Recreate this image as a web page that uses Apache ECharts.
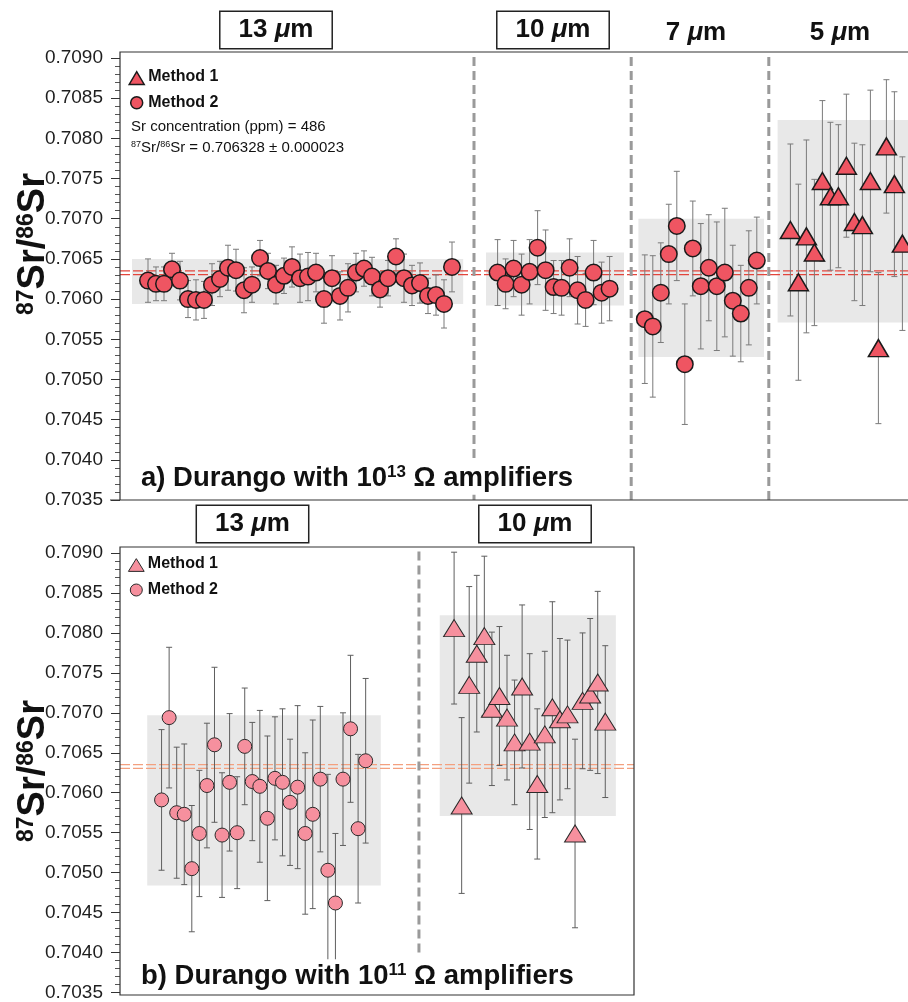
<!DOCTYPE html>
<html>
<head>
<meta charset="utf-8">
<script src="https://cdn.jsdelivr.net/npm/echarts@6/dist/echarts.min.js"></script>
<style>
  html, body { margin: 0; padding: 0; background: #fff; }
  #chart { width: 908px; height: 1002px; }
</style>
</head>
<body>
<div id="chart"></div>
<script>
// Durango apatite 87Sr/86Sr, laser spot analyses grouped by spot size.

const yMin = 0.7035, yMax = 0.7090, yStep = 0.0005;
const refRatio = 0.706328, refErr = 0.000023;
const srConc = 486;

// a) 10^13 Ω amplifiers
const a13Ratio = [0.70623,0.70619,0.70619,0.70637,0.70623,0.70600,0.70599,0.70599,0.70618,0.70625,
                  0.70639,0.70636,0.70611,0.70618,0.70651,0.70635,0.70618,0.70629,0.70640,0.70626,
                  0.70628,0.70633,0.70600,0.70626,0.70604,0.70614,0.70633,0.70638,0.70628,0.70612,
                  0.70626,0.70653,0.70626,0.70617,0.70620,0.70604,0.70605,0.70594,0.70640];
const a13Err   = [0.00027,0.00021,0.00021,0.00020,0.00024,0.00023,0.00025,0.00023,0.00026,0.00022,
                  0.00028,0.00026,0.00028,0.00022,0.00022,0.00022,0.00024,0.00022,0.00025,0.00030,
                  0.00030,0.00024,0.00030,0.00028,0.00030,0.00030,0.00024,0.00022,0.00024,0.00022,
                  0.00022,0.00022,0.00030,0.00025,0.00025,0.00022,0.00025,0.00030,0.00031];
const a10Ratio = [0.70633,0.70619,0.70638,0.70618,0.70634,0.70664,0.70636,0.70615,0.70614,0.70639,
                  0.70611,0.70599,0.70633,0.70608,0.70613];
const a10Err   = [0.00041,0.00031,0.00035,0.00038,0.00040,0.00046,0.00050,0.00033,0.00034,0.00036,
                  0.00042,0.00033,0.00040,0.00038,0.00040];
const a7Ratio  = [0.70575,0.70566,0.70608,0.70656,0.70691,0.70519,0.70663,0.70616,0.70639,0.70616,
                  0.70633,0.70598,0.70582,0.70614,0.70648];
const a7Err    = [0.00080,0.00088,0.00062,0.00062,0.00068,0.00075,0.00059,0.00078,0.00066,0.00080,
                  0.00080,0.00069,0.00060,0.00071,0.00054];
const a5Ratio  = [0.70686,0.70621,0.70678,0.70658,0.70747,0.70728,0.70728,0.70766,0.70696,0.70692,
                  0.70747,0.70539,0.70790,0.70743,0.70669];
const a5Err    = [0.00107,0.00122,0.00120,0.00091,0.00100,0.00092,0.00089,0.00089,0.00098,0.00100,
                  0.00113,0.00094,0.00083,0.00115,0.00108];

// b) 10^11 Ω amplifiers
const b13Ratio = [0.70591,0.70694,0.70575,0.70573,0.70505,0.70549,0.70609,0.70660,0.70547,0.70613,
                  0.70550,0.70658,0.70614,0.70608,0.70568,0.70618,0.70613,0.70588,0.70607,0.70549,
                  0.70573,0.70617,0.70503,0.70462,0.70617,0.70680,0.70555,0.70640];
const b13Err   = [0.00088,0.00088,0.00082,0.00088,0.00079,0.00079,0.00078,0.00097,0.00078,0.00086,
                  0.00070,0.00073,0.00074,0.00095,0.00103,0.00077,0.00092,0.00079,0.00102,0.00101,
                  0.00118,0.00091,0.00120,0.00087,0.00083,0.00092,0.00093,0.00103];
const b10Ratio = [0.70806,0.70584,0.70735,0.70774,0.70796,0.70705,0.70721,0.70694,0.70663,0.70733,
                  0.70664,0.70611,0.70673,0.70707,0.70692,0.70698,0.70549,0.70715,0.70723,0.70738,
                  0.70689];
const b10Err   = [0.00095,0.00110,0.00123,0.00098,0.00100,0.00096,0.00087,0.00078,0.00078,0.00102,
                  0.00110,0.00094,0.00104,0.00132,0.00101,0.00093,0.00118,0.00085,0.00095,0.00114,
                  0.00095];

// 2SD envelope of each spot-size group
const a13Band = [0.70594, 0.70650];
const a10Band = [0.70592, 0.70658];
const a7Band  = [0.70528, 0.70700];
const a5Band  = [0.70571, 0.70823];
const b13Band = [0.70484, 0.70697];
const b10Band = [0.70571, 0.70822];

const groupLabels = ['13 μm', '10 μm', '7 μm', '5 μm'];
const methodNames = ['Method 1', 'Method 2'];

// ---------- layout & style ----------
const FONT = 'Liberation Sans, Arial, Helvetica, sans-serif';
const PANELS = [
  {
    grid: { left: 120, top: 58, width: 788, height: 442 }, frameTop: 52, xMax: 98.5,
    fill: '#ef5562', border: '#1a1a1a', borderW: 1.5, circle: 16.5, tri: [20, 17], barColor: '#7a7a7a',
    refColor: '#e2453c',
    groups: [
      { ratio: a13Ratio, err: a13Err, band: a13Band, sym: 'circle',   start: 3.5,  boxX: [1.5, 42.9] },
      { ratio: a10Ratio, err: a10Err, band: a10Band, sym: 'circle',   start: 47.2, boxX: [45.75, 63] },
      { ratio: a7Ratio,  err: a7Err,  band: a7Band,  sym: 'circle',   start: 65.6, boxX: [64.8, 80.5] },
      { ratio: a5Ratio,  err: a5Err,  band: a5Band,  sym: 'triangle', start: 83.8, boxX: [82.2, 98.5] }
    ],
    dividers: [[44.25, yMin], [63.9, yMin], [81.1, yMin]]
  },
  {
    grid: { left: 120, top: 553, width: 514, height: 442 }, frameTop: 547, xMax: 68,
    fill: '#f6909e', border: '#2a2a2a', borderW: 1, circle: 14, tri: [21, 17], barColor: '#5e5e5e',
    refColor: '#f3a07f',
    groups: [
      { ratio: b13Ratio, err: b13Err, band: b13Band, sym: 'circle',   start: 5.5,  boxX: [3.6, 34.5] },
      { ratio: b10Ratio, err: b10Err, band: b10Band, sym: 'triangle', start: 44.2, boxX: [42.3, 65.6] }
    ],
    dividers: [[39.55, 0.7040]]
  }
];

const grids = [], xAxes = [], yAxes = [], series = [];

PANELS.forEach((p, pi) => {
  grids.push(p.grid);
  xAxes.push({ type: 'value', gridIndex: pi, min: 0, max: p.xMax, show: false });
  yAxes.push({
    type: 'value', gridIndex: pi, min: yMin, max: yMax, interval: yStep,
    axisLine: { show: false },
    axisTick: { show: true, inside: false, length: 9, lineStyle: { color: '#333', width: 1 } },
    minorTick: { show: true, splitNumber: 5, length: 5, lineStyle: { color: '#555', width: 1 } },
    splitLine: { show: false },
    minorSplitLine: { show: false },
    axisLabel: { formatter: v => v.toFixed(4), fontSize: 19, color: '#1e1e1e', margin: 17, fontFamily: FONT }
  });

  const topVal = yMax + (p.grid.top - p.frameTop) / p.grid.height * (yMax - yMin);

  // grey 2SD boxes
  series.push({
    type: 'custom', xAxisIndex: pi, yAxisIndex: pi, silent: true, z: 1, clip: true,
    data: p.groups.map(g => [g.boxX[0], g.boxX[1], g.band[0], g.band[1]]),
    encode: { x: [0, 1], y: [2, 3] },
    renderItem(params, api) {
      const a = api.coord([api.value(0), api.value(3)]);
      const b = api.coord([api.value(1), api.value(2)]);
      return { type: 'rect', shape: { x: a[0], y: a[1], width: b[0] - a[0], height: b[1] - a[1] },
               style: { fill: '#e8e8e8' } };
    }
  });

  // reference value ± uncertainty
  [refRatio - refErr, refRatio + refErr].forEach(v => {
    series.push({
      type: 'line', xAxisIndex: pi, yAxisIndex: pi, silent: true, z: 2, symbol: 'none',
      data: [[0, v], [p.xMax, v]],
      lineStyle: { color: p.refColor, width: 1.2, type: [10, 3] }
    });
  });

  // spot-size dividers
  p.dividers.forEach(d => {
    series.push({
      type: 'line', xAxisIndex: pi, yAxisIndex: pi, silent: true, z: 2, symbol: 'none', clip: false,
      data: [[d[0], d[1]], [d[0], topVal]],
      lineStyle: { color: '#9a9a9a', width: 3, type: [9, 5] }
    });
  });

  p.groups.forEach(g => {
    const pts = g.ratio.map((r, i) => [g.start + i, r, g.err[i]]);
    // 2SE error bars
    series.push({
      type: 'custom', xAxisIndex: pi, yAxisIndex: pi, silent: true, z: 3, clip: false,
      data: pts.map(q => [q[0], q[1] - q[2], q[1] + q[2]]),
      encode: { x: 0, y: [1, 2] },
      renderItem(params, api) {
        const x = api.value(0);
        const lo = api.coord([x, api.value(1)]);
        const hi = api.coord([x, api.value(2)]);
        const c = 3, st = { stroke: p.barColor, lineWidth: 1 };
        return { type: 'group', children: [
          { type: 'line', shape: { x1: lo[0], y1: lo[1], x2: hi[0], y2: hi[1] }, style: st },
          { type: 'line', shape: { x1: lo[0] - c, y1: lo[1], x2: lo[0] + c, y2: lo[1] }, style: st },
          { type: 'line', shape: { x1: hi[0] - c, y1: hi[1], x2: hi[0] + c, y2: hi[1] }, style: st }
        ] };
      }
    });
    // analyses
    series.push({
      type: 'scatter', xAxisIndex: pi, yAxisIndex: pi, z: 4, silent: true,
      name: g.sym === 'triangle' ? methodNames[0] : methodNames[1],
      symbol: g.sym,
      symbolSize: g.sym === 'triangle' ? p.tri : p.circle,
      data: pts.map(q => [q[0], q[1]]),
      itemStyle: { color: p.fill, borderColor: p.border, borderWidth: p.borderW, opacity: 1 }
    });
  });
});

// ---------- annotations ----------
const supRich = (size, ratio) => ({
  n: { fontSize: size, fontWeight: 'bold', fontFamily: FONT, lineHeight: size, fill: '#111' },
  s: { fontSize: Math.round(size * ratio), fontWeight: 'bold', fontFamily: FONT, lineHeight: Math.round(size * ratio), verticalAlign: 'top', fill: '#111' }
});

function header(text, cx, cy, boxed) {
  const parts = text.split('μ');
  return {
    type: 'text', x: cx, y: cy, z: 10,
    style: {
      text: '{n|' + parts[0] + '}{mu|μ}{n|' + parts[1] + '}',
      align: 'center', verticalAlign: 'middle',
      rich: {
        n: { fontSize: 26, fontWeight: 'bold', fontFamily: FONT, fill: '#111', lineHeight: 26 },
        mu: { fontSize: 26, fontWeight: 'bold', fontStyle: 'italic', fontFamily: FONT, fill: '#111', lineHeight: 26 }
      },
      padding: boxed ? [5, 18, 5, 18] : 0,
      borderColor: boxed ? '#222' : null,
      borderWidth: boxed ? 1.5 : 0,
      backgroundColor: boxed ? '#fff' : null
    }
  };
}

function legend(x, y1, y2, p) {
  const t = p.tri;
  const s = 0.75;
  return [
    { type: 'polygon', z: 10, shape: { points: [[x - t[0] * s / 2, y1 + t[1] * s / 2], [x + t[0] * s / 2, y1 + t[1] * s / 2], [x, y1 - t[1] * s / 2]] },
      style: { fill: p.fill, stroke: p.border, lineWidth: p.borderW } },
    { type: 'text', x: x + 11.5, y: y1 - 1, z: 10, style: { text: methodNames[0], font: 'bold 16px ' + FONT, fill: '#111', verticalAlign: 'middle' } },
    { type: 'circle', z: 10, shape: { cx: x, cy: y2, r: 6 }, style: { fill: p.fill, stroke: p.border, lineWidth: p.borderW } },
    { type: 'text', x: x + 11.5, y: y2, z: 10, style: { text: methodNames[1], font: 'bold 16px ' + FONT, fill: '#111', verticalAlign: 'middle' } }
  ];
}

function panelTitle(letter, exp, x, y) {
  return {
    type: 'text', x: x, y: y, z: 9,
    style: {
      text: '{n|' + letter + ') Durango with 10}{s|' + exp + '}{n| Ω amplifiers}',
      verticalAlign: 'middle', rich: supRich(27.5, 0.6), backgroundColor: '#fff', padding: [3, 4, 3, 2]
    }
  };
}

function yTitle(cx, cy) {
  return {
    type: 'text', x: cx, y: cy, rotation: Math.PI / 2, z: 10,
    style: {
      text: '{s|87}{n|Sr/}{s|86}{n|Sr}', align: 'center', verticalAlign: 'middle', rich: supRich(38, 0.6)
    }
  };
}

const graphics = [
  // frames
  { type: 'polyline', z: 8, silent: true, shape: { points: [[908, 52], [120, 52], [120, 500], [908, 500]] },
    style: { stroke: '#333', lineWidth: 1.2, fill: null } },
  { type: 'polyline', z: 0, silent: true, shape: { points: [[110, 500], [120, 500]] }, style: { stroke: '#333', lineWidth: 1 } },
  { type: 'rect', z: 8, silent: true, shape: { x: 120, y: 547, width: 514, height: 448 },
    style: { stroke: '#333', lineWidth: 1.2, fill: null } },
  header(groupLabels[0], 276, 30, true),
  header(groupLabels[1], 553, 30, true),
  header(groupLabels[2], 696, 33, false),
  header(groupLabels[3], 840, 33, false),
  header(groupLabels[0], 252.5, 524, true),
  header(groupLabels[1], 535, 524, true),
  ...legend(136.7, 78, 102.7, PANELS[0]),
  ...legend(136.3, 565, 590, PANELS[1]),
  { type: 'text', x: 131, y: 127, z: 10, style: { text: 'Sr concentration (ppm) = ' + srConc, font: '15px ' + FONT, fill: '#111', verticalAlign: 'middle' } },
  { type: 'text', x: 131, y: 148, z: 10, style: {
      text: '{s|87}{n|Sr/}{s|86}{n|Sr = ' + refRatio.toFixed(6) + ' ± ' + refErr.toFixed(6) + '}', verticalAlign: 'middle',
      rich: {
        n: { fontSize: 15, fontFamily: FONT, fill: '#111', lineHeight: 15 },
        s: { fontSize: 9, fontFamily: FONT, fill: '#111', lineHeight: 9, verticalAlign: 'top' }
      } } },
  panelTitle('a', '13', 139, 478),
  panelTitle('b', '11', 139, 976),
  yTitle(34, 244),
  yTitle(34, 771)
];

const chart = echarts.init(document.getElementById('chart'), null, { renderer: 'canvas' });
chart.setOption({
  animation: false,
  backgroundColor: '#fff',
  grid: grids,
  xAxis: xAxes,
  yAxis: yAxes,
  series: series,
  graphic: graphics
});
</script>
</body>
</html>
